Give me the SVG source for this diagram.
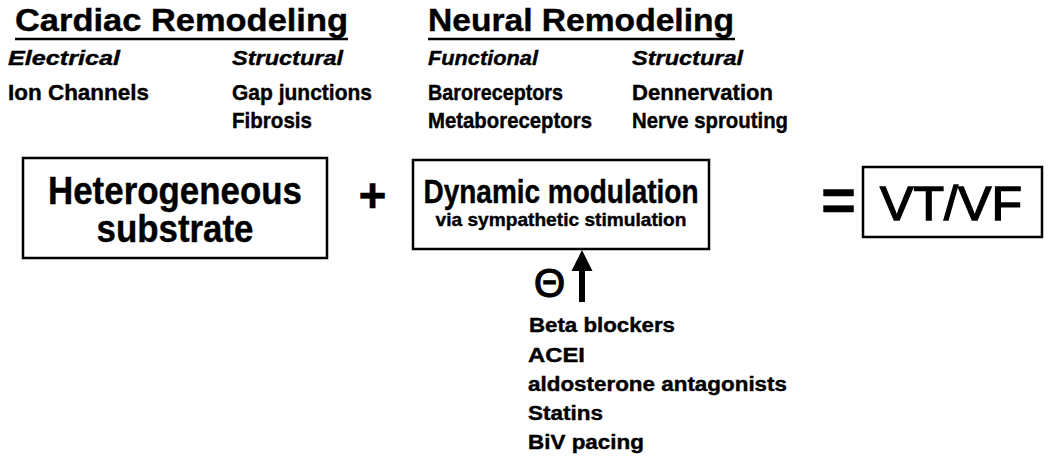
<svg xmlns="http://www.w3.org/2000/svg" width="1050" height="463" viewBox="0 0 1050 463">
<style>
text{font-family:"Liberation Sans",Arial,sans-serif;fill:#000;font-weight:bold;stroke:#000;stroke-width:0.4}
.title{font-size:32px}
.sub{font-size:21px;font-style:italic}
.item{font-size:22px}
.box{fill:#fff;stroke:#000;stroke-width:2.5}
.ul{stroke:#000;stroke-width:2.5}
.list{font-size:20px}
</style>
<rect width="1050" height="463" fill="#fff"/>
<g id="cardiac-remodeling">
<text class="title" x="15" y="31" textLength="333" lengthAdjust="spacingAndGlyphs">Cardiac Remodeling</text>
<line class="ul" x1="15" y1="39" x2="348" y2="39"/>
<text class="sub" x="8" y="65" textLength="112" lengthAdjust="spacingAndGlyphs">Electrical</text>
<text class="item" x="8" y="100" textLength="141" lengthAdjust="spacingAndGlyphs">Ion Channels</text>
<text class="sub" x="232" y="65" textLength="111" lengthAdjust="spacingAndGlyphs">Structural</text>
<text class="item" x="232" y="100" textLength="140" lengthAdjust="spacingAndGlyphs">Gap junctions</text>
<text class="item" x="232" y="128" textLength="80" lengthAdjust="spacingAndGlyphs">Fibrosis</text>
</g>
<g id="neural-remodeling">
<text class="title" x="428" y="31" textLength="306" lengthAdjust="spacingAndGlyphs">Neural Remodeling</text>
<line class="ul" x1="428" y1="39" x2="735" y2="39"/>
<text class="sub" x="428" y="65" textLength="110" lengthAdjust="spacingAndGlyphs">Functional</text>
<text class="item" x="428" y="100" textLength="135" lengthAdjust="spacingAndGlyphs">Baroreceptors</text>
<text class="item" x="428" y="128" textLength="164" lengthAdjust="spacingAndGlyphs">Metaboreceptors</text>
<text class="sub" x="632" y="65" textLength="111" lengthAdjust="spacingAndGlyphs">Structural</text>
<text class="item" x="632" y="100" textLength="141" lengthAdjust="spacingAndGlyphs">Dennervation</text>
<text class="item" x="632" y="128" textLength="156" lengthAdjust="spacingAndGlyphs">Nerve sprouting</text>
</g>
<g id="heterogeneous-substrate">
<rect class="box" x="23" y="158" width="304" height="100"/>
<text x="175" y="204" font-size="38" text-anchor="middle" textLength="254" lengthAdjust="spacingAndGlyphs">Heterogeneous</text>
<text x="175" y="242" font-size="38" text-anchor="middle" textLength="157" lengthAdjust="spacingAndGlyphs">substrate</text>
</g>
<g id="plus">
<text x="372.5" y="212" font-size="48" text-anchor="middle">+</text>
</g>
<g id="dynamic-modulation">
<rect class="box" x="413" y="160" width="296" height="89"/>
<text x="561" y="203" font-size="33" text-anchor="middle" textLength="275" lengthAdjust="spacingAndGlyphs">Dynamic modulation</text>
<text x="561" y="226" font-size="19" text-anchor="middle" textLength="251" lengthAdjust="spacingAndGlyphs">via sympathetic stimulation</text>
</g>
<g id="equals">
<text x="838.5" y="220" font-size="60" text-anchor="middle">=</text>
</g>
<g id="vtvf">
<rect class="box" x="863" y="167" width="179" height="70"/>
<text x="951" y="220" font-size="49" style="font-weight:normal;stroke-width:1.4" text-anchor="middle" textLength="142" lengthAdjust="spacingAndGlyphs">VT/VF</text>
</g>
<g id="connectors">
<line x1="582" y1="302" x2="582" y2="266" stroke="#000" stroke-width="6"/>
<polygon points="571.5,271 582,250 592.5,271" fill="#000"/>
</g>
<g id="inhibition">
<text x="549.5" y="296.5" font-size="40" style="font-weight:normal;stroke-width:1.2" text-anchor="middle">Θ</text>
</g>
<g id="therapies">
<text class="list" x="529" y="332" textLength="146" lengthAdjust="spacingAndGlyphs">Beta blockers</text>
<text class="list" x="528" y="362" textLength="57" lengthAdjust="spacingAndGlyphs">ACEI</text>
<text class="list" x="528" y="391" textLength="259" lengthAdjust="spacingAndGlyphs">aldosterone antagonists</text>
<text class="list" x="528" y="420" textLength="75" lengthAdjust="spacingAndGlyphs">Statins</text>
<text class="list" x="528" y="449" textLength="116" lengthAdjust="spacingAndGlyphs">BiV pacing</text>
</g>
</svg>
